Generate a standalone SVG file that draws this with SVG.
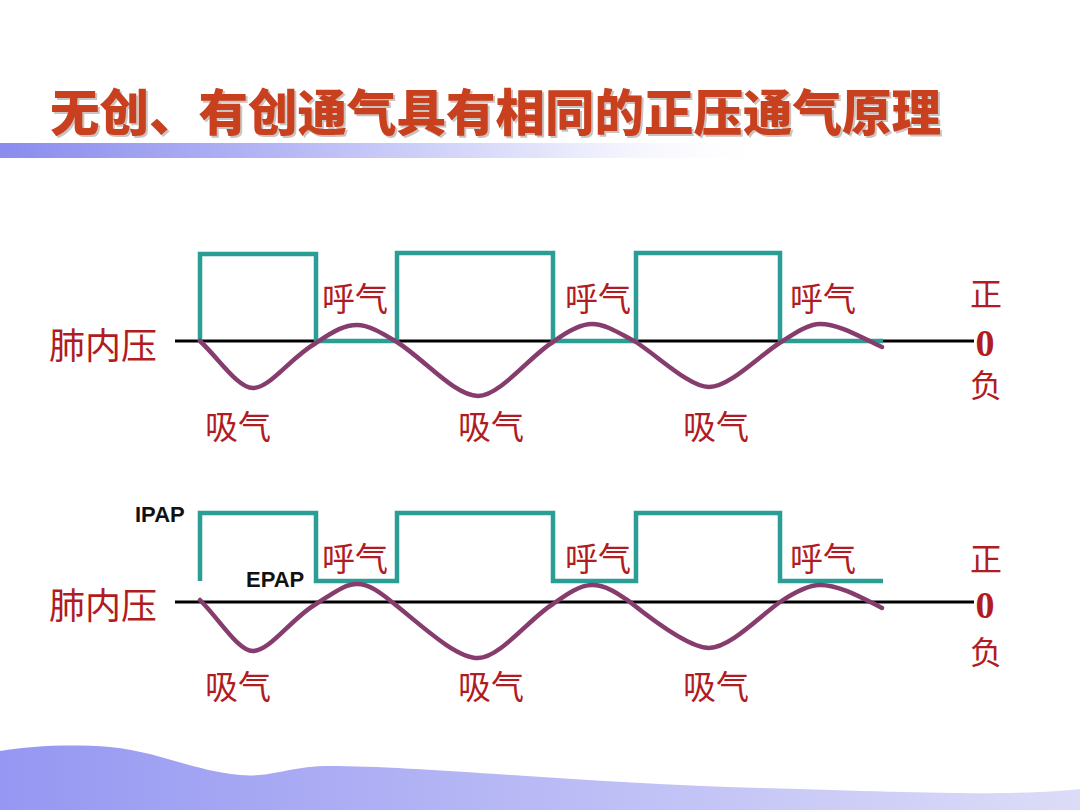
<svg xmlns="http://www.w3.org/2000/svg" width="1080" height="810" viewBox="0 0 1080 810">
<defs>
<linearGradient id="bar" x1="0" y1="0" x2="1" y2="0">
<stop offset="0" stop-color="#8a8cee"/>
<stop offset="0.35" stop-color="#b4b6f4"/>
<stop offset="0.7" stop-color="#e4e5fb"/>
<stop offset="1" stop-color="#ffffff" stop-opacity="0"/>
</linearGradient>
<linearGradient id="wave" x1="0" y1="0" x2="1" y2="0">
<stop offset="0" stop-color="#9597f2"/>
<stop offset="0.5" stop-color="#b9baf5"/>
<stop offset="1" stop-color="#dcdcf8"/>
</linearGradient>
<style>
.cn{font-family:"Noto Sans CJK SC",sans-serif;fill:#b01c22;text-anchor:middle;dominant-baseline:central}
.lbl{font-size:33px}
.axis{font-size:32px}
.zero{font-family:"Liberation Serif",serif;font-weight:bold;font-size:38px;fill:#b01c22;text-anchor:middle;dominant-baseline:central}
.en{font-family:"Liberation Sans",Arial,sans-serif;font-weight:bold;font-size:22px;fill:#111}
.base{stroke:#000;stroke-width:3;fill:none}
.sq{stroke:#2a9d95;stroke-width:4.5;fill:none;stroke-linejoin:miter}
.pr{stroke:#863d6e;stroke-width:4.5;fill:none;stroke-linecap:round}
</style>
</defs>
<rect width="1080" height="810" fill="#ffffff"/>
<g id="background">
<rect x="0" y="143" width="780" height="15" fill="url(#bar)"/>
<path d="M0,751 C30,746 70,744 110,747 C160,752 190,770 240,775 C270,778 290,766 330,766 C420,766 600,784 760,788 C900,792 980,795 1040,792 C1060,791 1070,790 1080,789 L1080,810 L0,810 Z" fill="url(#wave)"/>
</g>
<g id="title">
<text x="52" y="111" font-family="'Noto Sans CJK SC',sans-serif" font-weight="900" font-size="49.5" fill="#7a6a66" opacity="0.4" dominant-baseline="central">无创、有创通气具有相同的正压通气原理</text>
<text x="50" y="109" font-family="'Noto Sans CJK SC',sans-serif" font-weight="900" font-size="49.5" fill="#c8401e" dominant-baseline="central">无创、有创通气具有相同的正压通气原理</text>
</g>
<g id="connectors">
<g id="chart-top">
<line class="base" x1="175" y1="341" x2="974" y2="341"/>
<path class="sq" d="M200,341 V254 H316 V341 H397 V253 H553 V341 H636 V253 H780 V341 H883"/>
<path class="pr" d="M200,341 C220,360 238,388 253,388 C270,388 290,358 316,343 C335,330 345,325 357,325 C370,325 385,335 397,342 C425,360 455,396 478,396 C500,396 530,356 553,342 C565,333 580,324 592,324 C607,324 622,335 636,342 C660,358 690,387 709,387 C730,387 760,355 781,342 C795,333 808,324 820,324 C840,324 862,338 882,347"/>
</g>
<g id="chart-bottom">
<line class="base" x1="175" y1="602" x2="974" y2="602"/>
<path class="sq" d="M200,581 V513 H316 V581 H397 V513 H553 V581 H636 V513 H780 V581 H883"/>
<path class="pr" d="M200,600 C220,620 238,651 253,651 C270,651 292,618 316,604 C335,592 345,584 357,584 C370,584 382,594 392,602 C420,624 455,658 478,658 C500,658 530,618 553,604 C567,594 580,585 592,585 C607,585 620,595 630,602 C655,622 690,648 709,648 C730,648 760,616 780,602 C795,592 808,585 820,585 C840,585 862,598 882,608"/>
</g>
</g>
<g id="labels-top">
<text class="cn" x="103" y="343" font-size="36">肺内压</text>
<text class="cn lbl" x="355" y="297">呼气</text>
<text class="cn lbl" x="598" y="297">呼气</text>
<text class="cn lbl" x="823" y="297">呼气</text>
<text class="cn lbl" x="238" y="425">吸气</text>
<text class="cn lbl" x="491" y="425">吸气</text>
<text class="cn lbl" x="716" y="425">吸气</text>
<text class="cn axis" x="986" y="292">正</text>
<text class="zero" x="985" y="343">0</text>
<text class="cn axis" x="986" y="383">负</text>
</g>
<g id="labels-bottom">
<text class="en" x="135" y="522">IPAP</text>
<text class="en" x="246" y="587">EPAP</text>
<text class="cn" x="103" y="603" font-size="36">肺内压</text>
<text class="cn lbl" x="355" y="557">呼气</text>
<text class="cn lbl" x="598" y="557">呼气</text>
<text class="cn lbl" x="823" y="557">呼气</text>
<text class="cn lbl" x="238" y="685">吸气</text>
<text class="cn lbl" x="491" y="685">吸气</text>
<text class="cn lbl" x="716" y="685">吸气</text>
<text class="cn axis" x="986" y="557">正</text>
<text class="zero" x="985" y="605">0</text>
<text class="cn axis" x="986" y="650">负</text>
</g>
</svg>
